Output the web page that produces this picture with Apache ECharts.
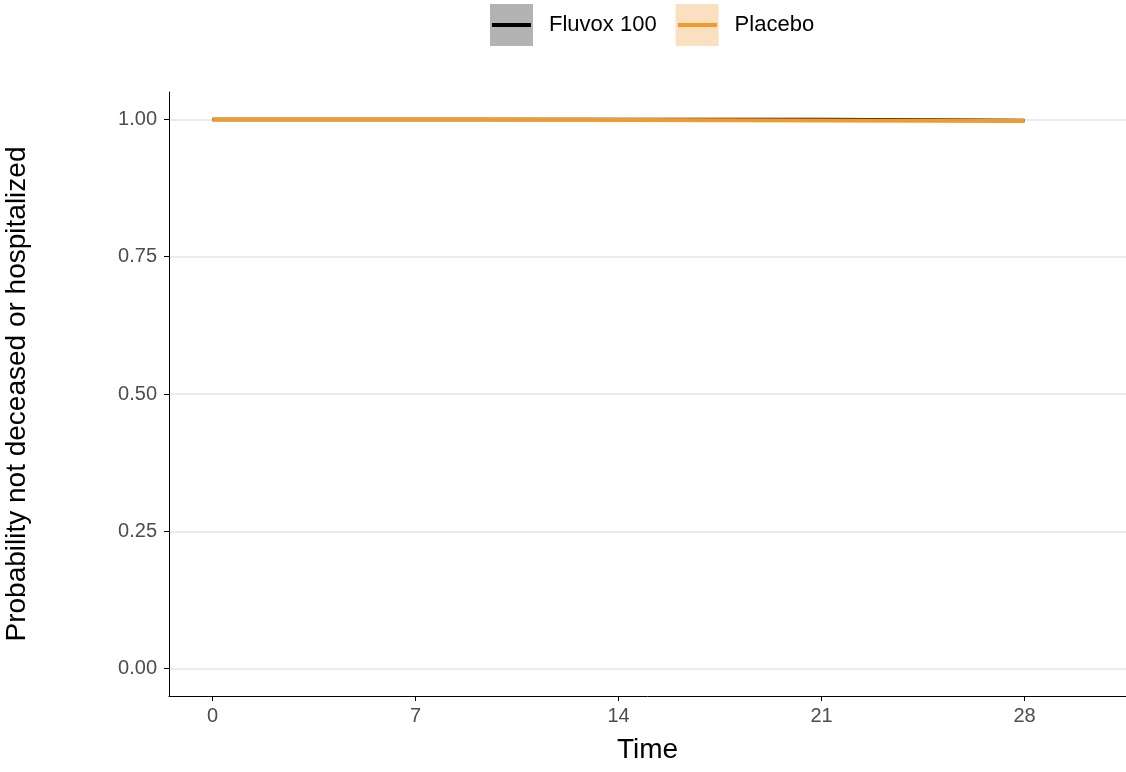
<!DOCTYPE html>
<html>
<head>
<meta charset="utf-8">
<script src="https://cdn.jsdelivr.net/npm/echarts@6/dist/echarts.min.js"></script>
<style>
  html, body { margin: 0; padding: 0; background: #fff; }
  #chart { width: 1126px; height: 772px; }
</style>
</head>
<body>
<div id="chart"></div>
<script>
// KM step curves (drops are ~1px)
const fluvoxTime = [0, 21, 28]
const fluvoxSurv = [1, 0.998, 0.998]
const placeboTime = [0, 9, 18, 28]
const placeboSurv = [1, 0.9985, 0.997, 0.997]
const xTicks = [0, 7, 14, 21, 28]
const yTicks = [0, 0.25, 0.5, 0.75, 1]
const groups = ['Fluvox 100', 'Placebo']

const zip = (xs, ys) => xs.map((x, i) => [x, ys[i]])

const chart = echarts.init(document.getElementById('chart'))
const font = 'Liberation Sans, Arial, sans-serif'

const option = {
  animation: false,
  textStyle: { fontFamily: font },
  legend: {
    top: 4,
    left: 490,
    padding: 0,
    itemWidth: 43,
    itemHeight: 42,
    itemGap: 19,
    icon: 'rect',
    textStyle: { fontSize: 22, color: '#000', padding: [0, 0, 0, 11] },
    data: [
      { name: groups[0], itemStyle: { color: '#b3b3b3' } },
      { name: groups[1], itemStyle: { color: '#fadfc0' } },
    ],
  },
  // line strokes inside the legend keys
  graphic: [
    { type: 'rect', z: 100, shape: { x: 492, y: 23, width: 39, height: 4 }, style: { fill: '#000' } },
    { type: 'rect', z: 100, shape: { x: 678, y: 23, width: 39, height: 4 }, style: { fill: '#f39a2b' } },
  ],
  grid: { left: 169, right: 0, top: 92, bottom: 76, containLabel: false, outerBoundsMode: 'none' },
  xAxis: {
    type: 'value',
    min: -1.5,
    max: 31.5,
    name: 'Time',
    nameLocation: 'middle',
    nameGap: 40,
    nameTextStyle: { fontSize: 28, color: '#000' },
    axisLine: { show: true, onZero: false, lineStyle: { color: '#000', width: 1 } },
    axisTick: { show: true, length: 5, customValues: xTicks, lineStyle: { color: '#000' } },
    axisLabel: { customValues: xTicks, fontSize: 20, color: '#4d4d4d', margin: 10 },
    splitLine: { show: false },
  },
  yAxis: {
    type: 'value',
    min: -0.05,
    max: 1.05,
    name: 'Probability not deceased or hospitalized',
    nameLocation: 'middle',
    nameGap: 138,
    nameTextStyle: { fontSize: 28, color: '#000' },
    axisLine: { show: true, onZero: false, lineStyle: { color: '#000', width: 1 } },
    axisTick: { show: true, length: 5, customValues: yTicks, lineStyle: { color: '#000' } },
    axisLabel: {
      customValues: yTicks,
      fontSize: 20,
      color: '#4d4d4d',
      margin: 12,
      formatter: (v) => v.toFixed(2),
    },
    splitLine: { show: true, lineStyle: { color: '#ebebeb', width: 2 } },
  },
  series: [
    {
      name: groups[0],
      type: 'line',
      step: 'end',
      showSymbol: false,
      color: '#000',
      lineStyle: { color: '#000', width: 3.5 },
      data: zip(fluvoxTime, fluvoxSurv),
    },
    {
      name: groups[1],
      type: 'line',
      step: 'end',
      showSymbol: false,
      color: '#f39a2b',
      lineStyle: { color: '#f39a2b', width: 4 },
      data: zip(placeboTime, placeboSurv),
    },
  ],
}
chart.setOption(option)
</script>
</body>
</html>
